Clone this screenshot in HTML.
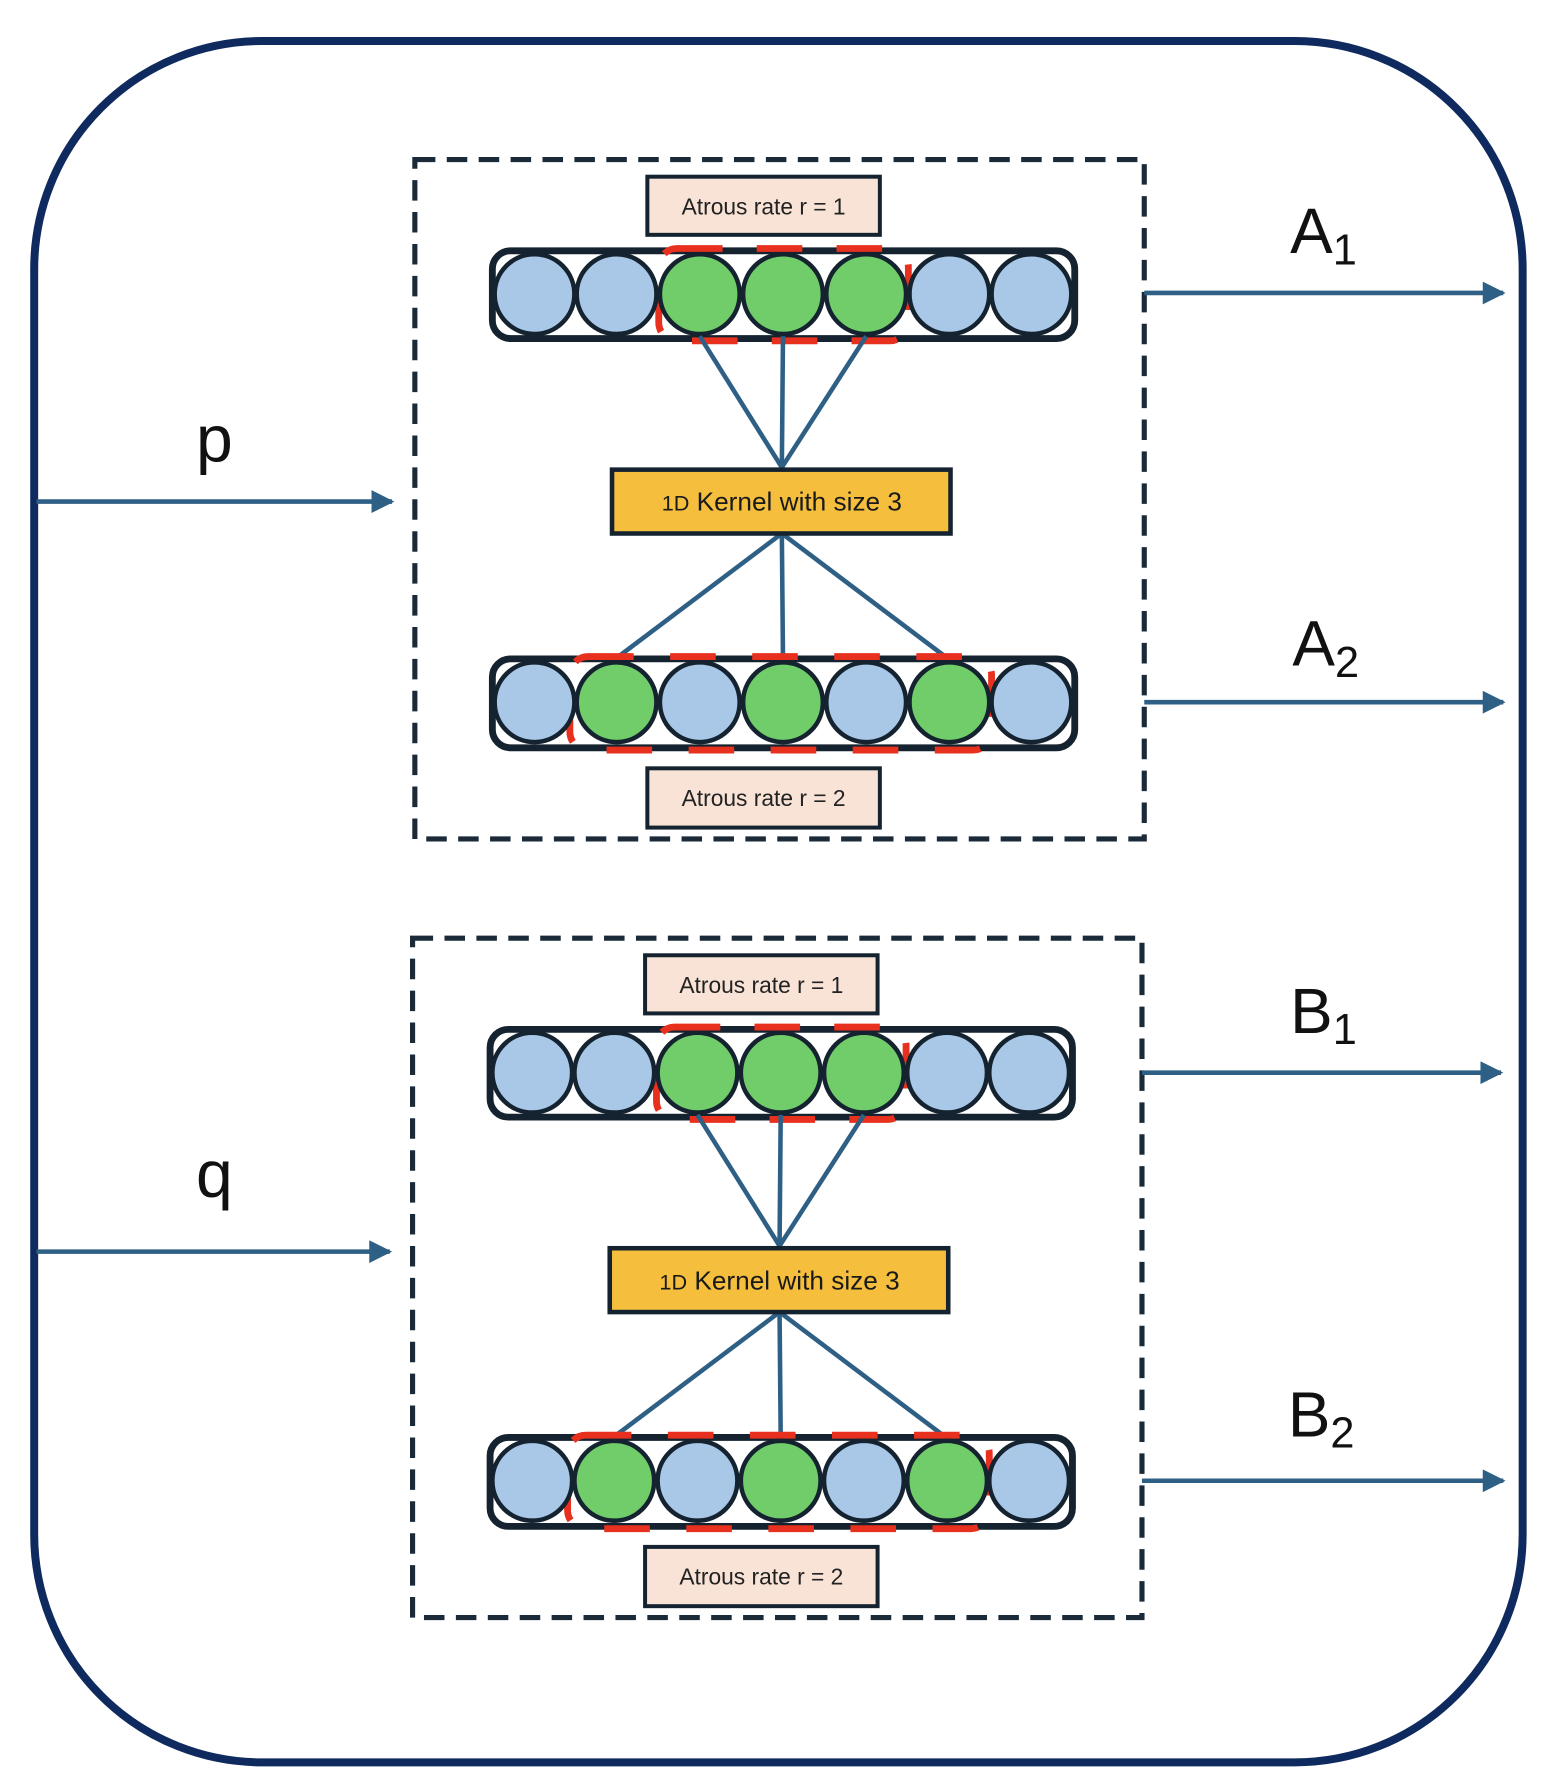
<!DOCTYPE html>
<html><head><meta charset="utf-8"><style>html,body{margin:0;padding:0;background:#fff}svg{display:block}</style></head>
<body>
<svg width="1550" height="1784" viewBox="0 0 1360 1565" preserveAspectRatio="none" xmlns="http://www.w3.org/2000/svg">
<defs>
<marker id="a2" viewBox="0 0 10 10" refX="9" refY="5" markerWidth="24" markerHeight="20" orient="auto" markerUnits="userSpaceOnUse"><path d="M0,0 L10,5 L0,10 z" fill="#2e5f85"/></marker>
<g id="blk">
<rect x="4" y="0" width="640" height="596" fill="none" stroke="#1b2a38" stroke-width="4.5" stroke-dasharray="18 10"/>
<rect x="208" y="15" width="204" height="51" fill="#f8e3d6" stroke="#14232f" stroke-width="3.5"/>
<text x="310" y="48" font-family="Liberation Sans, sans-serif" font-size="20" text-anchor="middle" fill="#222">Atrous rate r = 1</text>
<rect x="72" y="80" width="511" height="77" rx="16" fill="#fff" stroke="#14232f" stroke-width="6"/>
<rect x="218" y="78" width="219" height="81" rx="16" fill="none" stroke="#e8301f" stroke-width="6" stroke-dasharray="40 30"/>
<g stroke="#14232f" stroke-width="4">
<circle cx="109" cy="118" r="35" fill="#a9c8e8"/><circle cx="181" cy="118" r="35" fill="#a9c8e8"/>
<circle cx="254" cy="118" r="35" fill="#70cd6a"/><circle cx="327" cy="118" r="35" fill="#70cd6a"/>
<circle cx="400" cy="118" r="35" fill="#70cd6a"/><circle cx="473" cy="118" r="35" fill="#a9c8e8"/>
<circle cx="545" cy="118" r="35" fill="#a9c8e8"/></g>
<g stroke="#2e5f85" stroke-width="4">
<line x1="254" y1="155" x2="326" y2="270"/><line x1="327" y1="155" x2="326" y2="270"/><line x1="400" y1="155" x2="326" y2="270"/>
<line x1="326" y1="328" x2="180" y2="438"/><line x1="326" y1="328" x2="327" y2="438"/><line x1="326" y1="328" x2="472" y2="438"/></g>
<rect x="177" y="272" width="297" height="56" fill="#f5bf3d" stroke="#14232f" stroke-width="4"/>
<text x="326" y="308" font-family="Liberation Sans, sans-serif" font-size="23" text-anchor="middle" fill="#1a1a1a"><tspan font-size="19">1D</tspan> Kernel with size 3</text>
<rect x="72" y="438" width="511" height="78" rx="16" fill="#fff" stroke="#14232f" stroke-width="6"/>
<rect x="140" y="436" width="370" height="82" rx="16" fill="none" stroke="#e8301f" stroke-width="6" stroke-dasharray="40 32"/>
<g stroke="#14232f" stroke-width="4">
<circle cx="109" cy="476" r="35" fill="#a9c8e8"/><circle cx="181" cy="476" r="35" fill="#70cd6a"/>
<circle cx="254" cy="476" r="35" fill="#a9c8e8"/><circle cx="327" cy="476" r="35" fill="#70cd6a"/>
<circle cx="400" cy="476" r="35" fill="#a9c8e8"/><circle cx="473" cy="476" r="35" fill="#70cd6a"/>
<circle cx="545" cy="476" r="35" fill="#a9c8e8"/></g>
<rect x="208" y="534" width="204" height="52" fill="#f8e3d6" stroke="#14232f" stroke-width="3.5"/>
<text x="310" y="567" font-family="Liberation Sans, sans-serif" font-size="20" text-anchor="middle" fill="#222">Atrous rate r = 2</text>
</g>
</defs>
<rect x="30" y="36" width="1306" height="1510" rx="200" fill="#fff" stroke="#0f2a5e" stroke-width="7"/>
<use href="#blk" x="360" y="140"/>
<use href="#blk" x="358" y="823"/>
<g stroke="#2e5f85" stroke-width="4" fill="none">
<line x1="32" y1="440" x2="344" y2="440" marker-end="url(#a2)"/>
<line x1="32" y1="1098" x2="342" y2="1098" marker-end="url(#a2)"/>
<line x1="1004" y1="257" x2="1319" y2="257" marker-end="url(#a2)"/>
<line x1="1004" y1="616" x2="1319" y2="616" marker-end="url(#a2)"/>
<line x1="1002" y1="941" x2="1317" y2="941" marker-end="url(#a2)"/>
<line x1="1002" y1="1299" x2="1319" y2="1299" marker-end="url(#a2)"/>
</g>
<g font-family="Liberation Sans, sans-serif" fill="#111">
<text x="172" y="405" font-size="58">p</text>
<text x="172" y="1050" font-size="58">q</text>
<text x="1132" y="222" font-size="56">A<tspan font-size="38" dy="10">1</tspan></text>
<text x="1134" y="584" font-size="56">A<tspan font-size="38" dy="10">2</tspan></text>
<text x="1132" y="906" font-size="56">B<tspan font-size="38" dy="10">1</tspan></text>
<text x="1130" y="1260" font-size="56">B<tspan font-size="38" dy="10">2</tspan></text>
</g>
</svg>
</body></html>
